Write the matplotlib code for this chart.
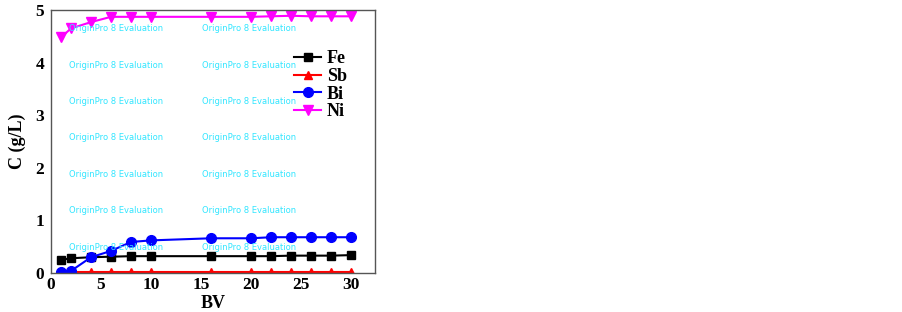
import matplotlib.pyplot as plt

plt.rcParams['font.family'] = ['Liberation Serif', 'DejaVu Serif']

# 数据
bv = [1, 2, 4, 6, 8, 10, 16, 20, 22, 24, 26, 28, 30]
fe = [0.25, 0.28, 0.30, 0.31, 0.32, 0.32, 0.32, 0.32, 0.32, 0.33, 0.33, 0.33, 0.34]
sb = [0.01, 0.01, 0.01, 0.01, 0.01, 0.01, 0.01, 0.01, 0.01, 0.01, 0.01, 0.01, 0.01]
bi = [0.01, 0.04, 0.30, 0.42, 0.59, 0.62, 0.66, 0.66, 0.68, 0.68, 0.68, 0.68, 0.68]
ni = [4.48, 4.65, 4.77, 4.87, 4.87, 4.87, 4.87, 4.87, 4.88, 4.89, 4.88, 4.88, 4.88]

xticks = [0, 5, 10, 15, 20, 25, 30]
yticks = [0, 1, 2, 3, 4, 5]

fig = plt.figure(figsize=(9.03, 3.12), dpi=100)
ax = fig.add_axes([0.0565, 0.125, 0.359, 0.843])

ax.plot(bv, fe, color='black', marker='s', markersize=6, linewidth=1.5, label='Fe')
ax.plot(bv, sb, color='red', marker='^', markersize=6, linewidth=1.5, label='Sb')
ax.plot(bv, bi, color='blue', marker='o', markersize=7, linewidth=1.5, label='Bi')
ax.plot(bv, ni, color='magenta', marker='v', markersize=7, linewidth=1.5, label='Ni')

# 水印文字
for yy in [4.65, 3.95, 3.26, 2.57, 1.87, 1.18, 0.49]:
    for xx in [1.8, 15.1]:
        ax.text(xx, yy, 'OriginPro 8 Evaluation', color='#33e6ff', fontsize=6,
                family='DejaVu Sans', va='center')

ax.set_xlim(0, 32.4)
ax.set_ylim(0, 5)
ax.set_xticks(xticks)
ax.set_yticks(yticks)
ax.tick_params(length=0, labelsize=12.5)
ax.tick_params(axis='y', pad=5)
ax.tick_params(axis='x', pad=3)
for lab in ax.get_xticklabels() + ax.get_yticklabels():
    lab.set_fontweight('bold')
for sp in ax.spines.values():
    sp.set_color('#555555')
    sp.set_linewidth(1.0)

ax.set_xlabel('BV', fontsize=13, fontweight='bold', labelpad=1)
ax.set_ylabel('C (g/L)', fontsize=13, fontweight='bold', labelpad=7)

leg = ax.legend(loc='upper left', bbox_to_anchor=(0.75, 0.846), frameon=False,
                prop={'weight': 'bold', 'size': 13}, handlelength=1.5,
                handletextpad=0.3, labelspacing=0.03, borderpad=0,
                borderaxespad=0)

fig.savefig('out.png', dpi=100)
